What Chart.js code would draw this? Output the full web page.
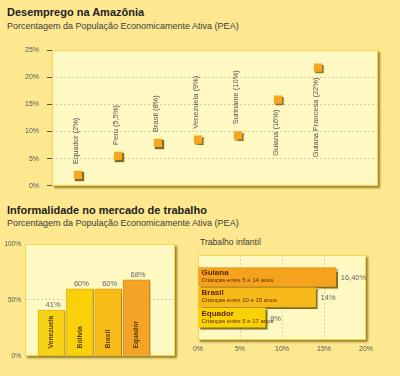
<!DOCTYPE html>
<html>
<head>
<meta charset="utf-8">
<script src="https://cdn.jsdelivr.net/npm/chart.js@4"></script>
<style>
  body { margin: 0; width: 400px; height: 376px; background: #fde890; position: relative; overflow: hidden;
         font-family: "Liberation Sans", Arial, sans-serif; }
  .titulo { position: absolute; left: 7px; font-size: 11px; line-height: 11px; font-weight: bold; color: #1e1e1e; white-space: nowrap; }
  .sub { position: absolute; left: 7px; font-size: 9px; line-height: 9px; color: #3c3c3c; white-space: nowrap; }
  canvas { position: absolute; }
</style>
</head>
<body>
<div class="titulo" style="top:7px">Desemprego na Amazônia</div>
<div class="sub" style="top:22px">Porcentagem da População Economicamente Ativa (PEA)</div>
<canvas id="c1" width="400" height="160" style="left:0;top:38px"></canvas>

<div class="titulo" style="top:205px">Informalidade no mercado de trabalho</div>
<div class="sub" style="top:219px">Porcentagem da População Economicamente Ativa (PEA)</div>
<canvas id="c2" width="200" height="136" style="left:0;top:236px"></canvas>

<div class="sub" style="left:200px;top:238px;font-size:8.6px">Trabalho infantil</div>
<canvas id="c3" width="220" height="112" style="left:180px;top:250px"></canvas>

<script>
// Desemprego na Amazônia (% da PEA)
const desempregoPaises = ['Equador', 'Peru', 'Brasil', 'Venezuela', 'Suriname', 'Guiana', 'Guiana Francesa'];
const desempregoRotulos = ['2%', '5,5%', '8%', '9%', '10%', '16%', '22%'];
const desempregoValores = [2, 5.5, 7.9, 8.5, 9.3, 15.9, 21.8];
const desempregoTicks = [0, 5, 10, 15, 20, 25];

// Informalidade no mercado de trabalho
const informalPaises = ['Venezuela', 'Bolivia', 'Brasil', 'Equador'];
const informalValores = [41, 60, 60, 68];
const informalTicks = [0, 50, 100];

// Trabalho infantil
const infantilPaises = ['Guiana', 'Brasil', 'Equador'];
const infantilFaixas = ['Crianças entre 5 e 14 anos', 'Crianças entre 10 e 15 anos', 'Crianças entre 5 e 17 anos'];
const infantilValores = [16.4, 14, 8];
const infantilRotulos = ['16,40%', '14%', '8%'];
const infantilTicks = [0, 5, 10, 15, 20];

const FONTE = '"Liberation Sans", Arial, sans-serif';
const GRADE = '#d5cea6';

// fundo claro com sombra atrás da área do gráfico
const painel = {
  id: 'painel',
  beforeDraw(chart) {
    const { ctx, chartArea: a } = chart;
    ctx.save();
    ctx.shadowColor = 'rgba(135,112,20,0.85)';
    ctx.shadowOffsetX = 2;
    ctx.shadowOffsetY = 2;
    ctx.shadowBlur = 2;
    ctx.fillStyle = '#fef8c2';
    ctx.fillRect(a.left, a.top, a.width, a.height);
    ctx.restore();
    ctx.save();
    ctx.strokeStyle = '#f2d84a';
    ctx.lineWidth = 1;
    ctx.strokeRect(a.left + 0.5, a.top + 0.5, a.width - 1, a.height - 1);
    ctx.restore();
  }
};

// sombra nas marcas (quadrados e barras)
const sombra = {
  id: 'sombra',
  beforeDatasetsDraw(chart, args, opts) {
    const ctx = chart.ctx;
    ctx.save();
    ctx.shadowColor = opts.cor || 'rgba(100,75,0,0.8)';
    ctx.shadowOffsetX = opts.d || 2;
    ctx.shadowOffsetY = opts.d || 2;
    ctx.shadowBlur = 1;
  },
  afterDatasetsDraw(chart) {
    chart.ctx.restore();
  }
};

const semGradeNasBordas = (ticks) => (c) =>
  (c.tick.value > ticks[0] && c.tick.value < ticks[ticks.length - 1]) ? GRADE : 'rgba(0,0,0,0)';

// 1. Desemprego
const rotulosDesemprego = {
  id: 'rotulosDesemprego',
  afterDraw(chart) {
    const ctx = chart.ctx;
    const pts = chart.getDatasetMeta(0).data;
    ctx.save();
    ctx.font = '7.5px ' + FONTE;
    ctx.fillStyle = '#555';
    ctx.textBaseline = 'middle';
    pts.forEach((p, i) => {
      const txt = desempregoPaises[i] + ' (' + desempregoRotulos[i] + ')';
      const abaixo = desempregoValores[i] > 15; // sem espaço em cima: texto vai para baixo do ponto
      ctx.save();
      ctx.translate(p.x - 2, abaixo ? p.y + 10 : p.y - 11);
      ctx.rotate(-Math.PI / 2);
      ctx.textAlign = abaixo ? 'right' : 'left';
      ctx.fillText(txt, 0, 0);
      ctx.restore();
    });
    ctx.restore();
  }
};

new Chart(document.getElementById('c1'), {
  type: 'scatter',
  data: {
    datasets: [{
      data: desempregoValores.map((v, i) => ({ x: i, y: v })),
      pointStyle: 'rect',
      pointRadius: 5.8,
      backgroundColor: '#f7a71e',
      borderWidth: 0
    }]
  },
  options: {
    responsive: false,
    animation: false,
    events: [],
    layout: { padding: { left: 0, right: 22, top: 7, bottom: 10 } },
    plugins: { legend: { display: false }, tooltip: { enabled: false }, sombra: { cor: 'rgba(95,70,0,0.8)', d: 1.5 } },
    scales: {
      x: { type: 'linear', min: -0.65, max: 7.5, display: false },
      y: {
        min: 0, max: 25,
        afterBuildTicks: s => { s.ticks = desempregoTicks.map(v => ({ value: v })); },
        afterFit: s => { s.width = 52; },
        grid: { color: semGradeNasBordas(desempregoTicks), tickColor: '#555', tickLength: 5 },
        border: { display: false, dash: [2, 2] },
        ticks: { padding: 8, color: '#555', font: { size: 7, family: FONTE }, callback: v => v + '%' }
      }
    }
  },
  plugins: [painel, sombra, rotulosDesemprego]
});

// 2. Informalidade
const rotulosInformal = {
  id: 'rotulosInformal',
  afterDraw(chart) {
    const ctx = chart.ctx;
    const bars = chart.getDatasetMeta(0).data;
    ctx.save();
    bars.forEach((b, i) => {
      ctx.font = '7.5px ' + FONTE;
      ctx.fillStyle = '#666';
      ctx.textAlign = 'center';
      ctx.textBaseline = 'bottom';
      ctx.fillText(informalValores[i] + '%', b.x + 1.5, b.y - 1);
      ctx.save();
      ctx.translate(b.x, b.base - 7);
      ctx.rotate(-Math.PI / 2);
      ctx.font = 'bold 6.8px ' + FONTE;
      ctx.fillStyle = '#5a3c08';
      ctx.textAlign = 'left';
      ctx.textBaseline = 'middle';
      ctx.fillText(informalPaises[i], 0, 0);
      ctx.restore();
    });
    ctx.restore();
  }
};

new Chart(document.getElementById('c2'), {
  type: 'bar',
  data: {
    datasets: [{
      data: informalValores.map((v, i) => ({ x: i, y: v })),
      backgroundColor: ['#f8d214', '#fad00a', '#f7bc18', '#f5a327'],
      borderColor: ['#e6bb10', '#e8b808', '#e3a612', '#df8e1c'],
      borderWidth: 1,
      barThickness: 27
    }]
  },
  options: {
    responsive: false,
    animation: false,
    events: [],
    layout: { padding: { left: 0, right: 25, top: 7, bottom: 16 } },
    plugins: { legend: { display: false }, tooltip: { enabled: false }, sombra: { cor: 'rgba(120,95,10,0.5)', d: 1 } },
    scales: {
      x: { type: 'linear', min: -0.94, max: 4.36, offset: false, display: false },
      y: {
        min: 0, max: 100,
        afterBuildTicks: s => { s.ticks = informalTicks.map(v => ({ value: v })); },
        afterFit: s => { s.width = 25; },
        grid: { color: semGradeNasBordas(informalTicks), drawTicks: false },
        border: { display: false, dash: [2, 2] },
        ticks: { padding: 4, color: '#555', font: { size: 6.5, family: FONTE }, callback: v => v + '%' }
      }
    }
  },
  plugins: [painel, sombra, rotulosInformal]
});

// 3. Trabalho infantil
const rotulosInfantil = {
  id: 'rotulosInfantil',
  afterDraw(chart) {
    const ctx = chart.ctx;
    const bars = chart.getDatasetMeta(0).data;
    ctx.save();
    ctx.textAlign = 'left';
    ctx.textBaseline = 'middle';
    bars.forEach((b, i) => {
      ctx.fillStyle = '#5c2a00';
      ctx.font = 'bold 8px ' + FONTE;
      ctx.fillText(infantilPaises[i], b.base + 3, b.y - 4);
      ctx.font = '6px ' + FONTE;
      ctx.fillText(infantilFaixas[i], b.base + 3, b.y + 3.5);
      ctx.fillStyle = '#666';
      ctx.font = '7.5px ' + FONTE;
      ctx.fillText(infantilRotulos[i], b.x + 5, b.y + 1);
    });
    ctx.restore();
  }
};

new Chart(document.getElementById('c3'), {
  type: 'bar',
  data: {
    datasets: [{
      data: infantilValores.map((v, i) => ({ x: v, y: i })),
      backgroundColor: ['#f5a21f', '#f7b91a', '#f9d106'],
      borderWidth: 0,
      barThickness: 19
    }]
  },
  options: {
    indexAxis: 'y',
    responsive: false,
    animation: false,
    events: [],
    layout: { padding: { left: 18, right: 34, top: 5, bottom: 0 } },
    plugins: { legend: { display: false }, tooltip: { enabled: false }, sombra: { cor: 'rgba(105,85,5,0.85)', d: 2 } },
    scales: {
      y: { type: 'linear', min: -1.08, max: 3.1, reverse: true, offset: false, display: false },
      x: {
        min: 0, max: 20,
        afterBuildTicks: s => { s.ticks = infantilTicks.map(v => ({ value: v })); },
        afterFit: s => { s.height = 22; },
        grid: { color: semGradeNasBordas(infantilTicks), drawTicks: false },
        border: { display: false, dash: [2, 2] },
        ticks: { padding: 5, color: '#555', font: { size: 7, family: FONTE }, maxRotation: 0, callback: v => v + '%' }
      }
    }
  },
  plugins: [painel, sombra, rotulosInfantil]
});
</script>
</body>
</html>
